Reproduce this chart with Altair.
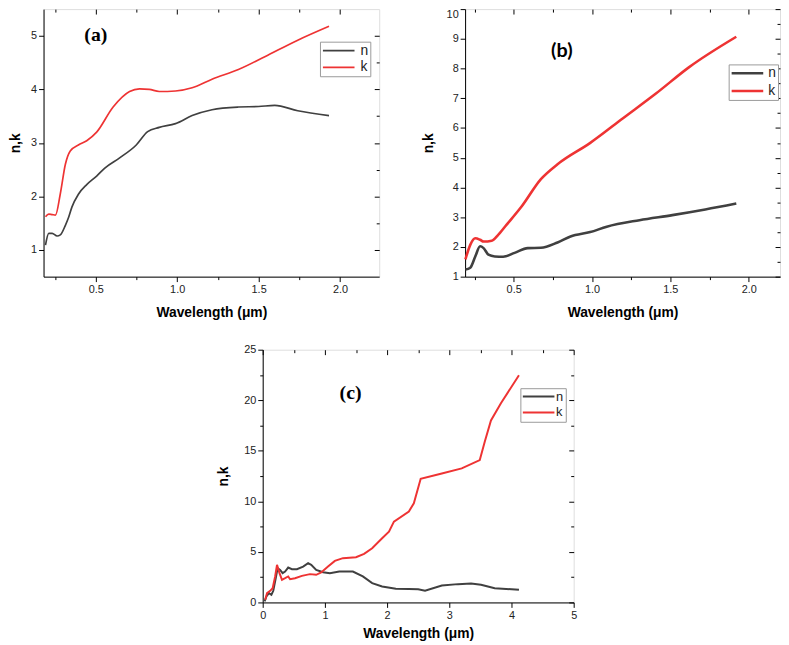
import altair as alt
import pandas as pd

# ---------------- data ----------------
# panel (a)
a_n_x = [0.192, 0.212, 0.233, 0.263, 0.283, 0.314, 0.334, 0.354, 0.394, 0.445, 0.506, 0.556,
         0.647, 0.749, 0.819, 0.89, 0.99, 1.092, 1.214, 1.376, 1.50, 1.599, 1.74, 1.932]
a_n_y = [1.09, 1.31, 1.31, 1.26, 1.28, 1.46, 1.61, 1.80, 2.04, 2.22, 2.38, 2.53,
         2.72, 2.96, 3.21, 3.29, 3.36, 3.51, 3.62, 3.67, 3.68, 3.70, 3.60, 3.51]
a_k_x = [0.192, 0.212, 0.233, 0.253, 0.283, 0.314, 0.344, 0.394, 0.445, 0.506, 0.607, 0.708,
         0.769, 0.829, 0.89, 0.99, 1.092, 1.214, 1.376, 1.538, 1.74, 1.932]
a_k_y = [1.62, 1.67, 1.66, 1.65, 2.05, 2.60, 2.85, 2.96, 3.04, 3.20, 3.67, 3.96,
         4.01, 4.00, 3.96, 3.97, 4.03, 4.19, 4.37, 4.61, 4.92, 5.18]

# panel (b)
b_n_x = [0.192, 0.223, 0.255, 0.286, 0.308, 0.339, 0.38, 0.433, 0.506, 0.59, 0.674, 0.78,
         0.863, 0.989, 1.094, 1.303, 1.513, 1.723, 1.921]
b_n_y = [1.24, 1.30, 1.68, 2.02, 1.96, 1.74, 1.68, 1.67, 1.80, 1.96, 1.97, 2.15,
         2.35, 2.50, 2.68, 2.90, 3.07, 3.26, 3.46]
b_k_x = [0.192, 0.223, 0.255, 0.286, 0.308, 0.36, 0.40, 0.454, 0.548, 0.674, 0.78, 0.989,
         1.198, 1.408, 1.618, 1.921]
b_k_y = [1.58, 2.07, 2.29, 2.24, 2.18, 2.21, 2.40, 2.74, 3.34, 4.28, 4.78, 5.50,
         6.33, 7.16, 8.04, 9.07]

# panel (c)
c_n_x = [0.03, 0.06, 0.10, 0.14, 0.17, 0.21, 0.24, 0.28, 0.32, 0.36, 0.41, 0.47, 0.55, 0.65,
         0.73, 0.78, 0.86, 0.97, 1.08, 1.23, 1.45, 1.61, 1.76, 1.92, 2.14, 2.35, 2.50, 2.61,
         2.88, 3.14, 3.35, 3.51, 3.73, 4.12]
c_n_y = [0.10, 0.59, 0.92, 0.76, 1.15, 2.40, 3.39, 3.22, 2.90, 3.06, 3.45, 3.29, 3.29, 3.55,
         3.88, 3.72, 3.22, 2.99, 2.89, 3.06, 3.06, 2.57, 1.91, 1.58, 1.35, 1.32, 1.30, 1.15,
         1.68, 1.81, 1.87, 1.74, 1.41, 1.25]
c_k_x = [0.04, 0.07, 0.12, 0.16, 0.20, 0.23, 0.27, 0.31, 0.36, 0.41, 0.44, 0.52, 0.63, 0.76,
         0.86, 0.94, 1.05, 1.16, 1.29, 1.50, 1.63, 1.76, 1.92, 2.03, 2.11, 2.35, 2.43, 2.54,
         2.88, 3.20, 3.49, 3.57, 3.67, 3.83, 4.12]
c_k_y = [0.26, 0.92, 1.15, 1.41, 2.57, 3.72, 2.90, 2.24, 2.40, 2.57, 2.30, 2.40, 2.63, 2.80,
         2.73, 2.96, 3.55, 4.11, 4.38, 4.47, 4.80, 5.36, 6.35, 7.00, 8.00, 9.00, 9.80, 12.24,
         12.76, 13.26, 14.08, 15.90, 18.00, 19.70, 22.47]

series_names = ["n", "k"]
panel_labels = ["(a)", "(b)", "(c)"]
x_title = "Wavelength (μm)"
y_title = "n,k"

# tick values (major + minor)
ab_x_ticks = [0.25, 0.5, 0.75, 1.0, 1.25, 1.5, 1.75, 2.0]
a_y_ticks = [1, 1.5, 2, 2.5, 3, 3.5, 4, 4.5, 5]
b_y_ticks = [1, 1.5, 2, 2.5, 3, 3.5, 4, 4.5, 5, 5.5, 6, 6.5, 7, 7.5, 8, 8.5, 9, 9.5, 10]
c_x_ticks = [0, 0.5, 1, 1.5, 2, 2.5, 3, 3.5, 4, 4.5, 5]
c_y_ticks = [0, 2.5, 5, 7.5, 10, 12.5, 15, 17.5, 20, 22.5, 25]

GRAY = "#404040"
RED = "#ee3333"
FONT = "Liberation Sans"
SERIF = "Liberation Serif"


def axis(orient, values, step, fmt, labels=True, title=None, tp=10, inward=False,
         baseline=None):
    test = f"abs(datum.value/{step} - round(datum.value/{step})) > 0.001"
    s = -1 if inward else 1
    kw = dict(orient=orient, values=values, grid=False, labelFlush=False,
              labelOverlap=False, domainColor="black", tickColor="black",
              tickSize=alt.ExprRef(expr=f"({test}) ? {3 * s} : {5 * s}"))
    if labels:
        kw.update(format=fmt, labelExpr=f"({test}) ? '' : datum.label", labelPadding=2,
                  labelFont=FONT, labelFontSize=11, labelColor="#222222")
        if baseline is not None:
            kw["labelBaseline"] = baseline
    else:
        kw["labels"] = False
    if inward:
        kw["domain"] = False
    if title:
        kw.update(title=title, titlePadding=tp, titleFont=FONT, titleFontSize=14,
                  titleFontWeight="bold", titleColor="black")
    else:
        kw["title"] = None
    return alt.Axis(**kw)


def panel(nx, ny, kx, ky, xdom, ydom, xticks, xstep, xfmt, yticks, ystep, yfmt,
          w, h, sw, interp, label, lfont, lpos, legpos, ytp, xtp, lab_fs, rowpad,
          ybaseline=None):
    df = pd.DataFrame({
        "x": nx + kx,
        "y": ny + ky,
        "s": [series_names[0]] * len(nx) + [series_names[1]] * len(kx),
    })
    xs = alt.Scale(domain=xdom, nice=False, zero=False)
    ys = alt.Scale(domain=ydom, nice=False, zero=False)
    base = alt.Chart(df)
    lines = base.mark_line(strokeWidth=sw, interpolate=interp).encode(
        x=alt.X("x:Q", scale=xs,
                axis=axis("bottom", xticks, xstep, xfmt, title=x_title, tp=xtp)),
        y=alt.Y("y:Q", scale=ys,
                axis=axis("left", yticks, ystep, yfmt, title=y_title, tp=ytp,
                          baseline=ybaseline)),
        color=alt.Color("s:N",
                        scale=alt.Scale(domain=series_names, range=[GRAY, RED]),
                        legend=alt.Legend(orient="none", legendX=legpos[0],
                                          legendY=legpos[1], title=None,
                                          symbolType="M-3.2,0H3.2", symbolSize=100,
                                          symbolOffset=10,
                                          symbolStrokeWidth=sw, strokeColor="#999999",
                                          fillColor="white", padding=2,
                                          labelFont=FONT, labelFontSize=lab_fs,
                                          labelColor="#222222", rowPadding=rowpad,
                                          labelOffset=legpos[2], offset=0)),
    )
    mirror = base.mark_line(opacity=0).encode(
        x=alt.X("x:Q", scale=xs, axis=axis("top", xticks, xstep, xfmt, labels=False,
                                           inward=True)),
        y=alt.Y("y:Q", scale=ys, axis=axis("right", yticks, ystep, yfmt, labels=False,
                                           inward=True)),
        detail="s:N",
    )
    txt = alt.Chart(pd.DataFrame({"t": [label]})).mark_text(
        font=lfont, fontSize=20, fontWeight="bold", color="black",
        align="center", baseline="middle",
    ).encode(text="t:N", x=alt.value(lpos[0]), y=alt.value(lpos[1]))
    return alt.layer(lines, mirror, txt).resolve_axis(
        x="independent", y="independent").properties(width=w, height=h)


pa = panel(a_n_x, a_n_y, a_k_x, a_k_y, [0.18, 2.24], [0.5, 5.5],
           ab_x_ticks, 0.5, ".1f", a_y_ticks, 1, "d",
           340, 271, 1.7, "monotone", panel_labels[0], SERIF,
           (53, 26), (280, 33, 15), 8, 11, 14, 3)
pb = panel(b_n_x, b_n_y, b_k_x, b_k_y, [0.19, 2.2], [1, 10],
           ab_x_ticks, 0.5, ".1f", b_y_ticks, 1, "d",
           319, 271, 2.6, "monotone", panel_labels[1], "Lato",
           (98, 43), (267, 56, 14), 11, 11, 14, 4,
           ybaseline={"condition": {"test": "datum.value == 10", "value": "top"},
                      "value": "middle"})
pc = panel(c_n_x, c_n_y, c_k_x, c_k_y, [0, 5], [0, 25],
           c_x_ticks, 1, "d", c_y_ticks, 5, "d",
           315, 256, 2.0, "linear", panel_labels[2], SERIF,
           (89, 44), (261, 39, 11), 13, 7, 13, 2)

spacer = alt.Chart(pd.DataFrame({"v": [0]})).mark_point(opacity=0).encode(
    x=alt.value(0), y=alt.value(0)
).properties(width=175, height=10,
             view=alt.ViewBackground(stroke="transparent", strokeOpacity=0))

top = alt.hconcat(pa, pb, spacing=41).resolve_scale(color="independent")
bottom = alt.hconcat(spacer, pc, spacing=0).resolve_scale(color="independent")
chart = alt.vconcat(top, bottom, spacing=23).resolve_scale(
    color="independent"
).properties(
    padding={"left": 0, "top": -4, "right": 0, "bottom": 0}
).configure_view(
    stroke="black", strokeWidth=1
).configure(background="white")

chart.save("out.html", embed_options={"renderer": "svg", "actions": False})
